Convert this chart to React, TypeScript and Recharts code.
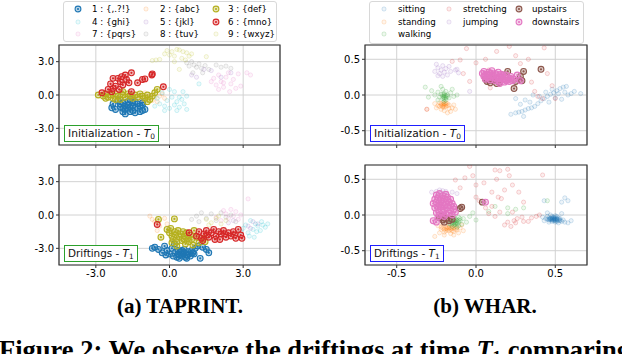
import React from 'react';
import { ScatterChart, Scatter, XAxis, YAxis, CartesianGrid, ReferenceArea } from 'recharts';

type Pt = [number, number];

// ---------- (a) TAPRINT, initialization T0 ----------
const tapInit1: Pt[] = [[-2.3,-0.8],[-2.1,-0.5],[-2.0,-1.1],[-1.9,-0.7],[-1.8,-1.3],[-1.7,-0.9],[-1.6,-1.5],[-1.5,-1.0],[-1.4,-0.6],[-1.3,-1.2],[-1.2,-1.5],[-1.1,-0.9],[-1.9,-1.5],[-2.2,-1.3],[-1.6,-0.4],[-1.7,-1.2],[-1.5,-1.4],[-1.8,-1.0],[-2.0,-0.8],[-1.4,-1.6],[-1.3,-0.8],[-1.0,-1.3],[-1.6,-1.1],[-1.9,-1.2],[-2.35,-1.15],[-1.2,-1.0],[-1.5,-0.7],[-1.8,-1.7],[-1.1,-1.4],[-1.7,-0.6],[-1.1,-0.7]];
const tapInit2: Pt[] = [[-1.8,0.1],[-1.6,-0.2],[-1.4,0.1],[-1.2,-0.1],[-1.0,0.2],[-0.8,0.0],[-0.6,-0.2],[-0.4,-0.1],[-0.2,-0.3],[-1.1,-0.4],[-0.7,-0.5],[-0.3,0.1],[-0.9,-0.2],[-1.5,-0.3],[-0.5,-0.6],[-2.0,0.2]];
const tapInit3: Pt[] = [[-2.9,0.0],[-2.7,-0.1],[-2.6,0.1],[-2.5,-0.2],[-2.4,0.0],[-2.3,-0.3],[-2.2,0.1],[-2.1,-0.1],[-2.0,-0.4],[-1.9,0.0],[-1.8,-0.2],[-1.7,0.1],[-1.6,-0.1],[-1.5,-0.3],[-1.4,0.0],[-1.3,-0.2],[-1.2,0.1],[-1.1,-0.1],[-1.0,-0.3],[-0.9,0.0],[-0.8,-0.4],[-0.7,-0.1],[-0.5,0.5],[-0.6,0.2],[-0.9,-0.6],[-2.2,-0.4],[-1.9,0.3],[-2.6,-0.3]];
const tapInit4: Pt[] = [[-0.5,-0.3],[-0.4,-0.8],[-0.3,0.2],[-0.2,-1.0],[-0.1,-0.5],[0.0,-1.2],[0.1,-0.2],[0.2,-0.9],[0.3,-0.6],[0.4,-1.1],[0.5,-0.4],[0.6,-0.8],[0.7,-1.3],[0.2,0.3],[0.3,-1.4],[-0.6,-1.0],[0.0,0.5],[0.55,0.3],[1.2,1.0],[0.7,-0.1],[-0.2,-1.4],[0.4,-0.2]];
const tapInit5: Pt[] = [[1.4,2.3],[2.1,1.6],[1.1,1.6],[2.5,2.0],[1.7,2.2],[0.9,1.8]];
const tapInit6: Pt[] = [[-2.75,0.2],[-2.4,1.0],[-2.3,1.5],[-1.95,1.65],[-1.8,1.8],[-1.55,2.0],[-1.65,1.1],[-2.0,1.2],[-2.05,0.5],[-2.35,0.3],[-1.3,1.1],[-1.1,1.4],[-0.7,1.9],[-0.72,1.8],[-0.25,0.74],[-1.55,0.3],[-2.2,0.8],[-1.9,0.9],[-2.5,0.5],[-2.1,1.5],[-1.75,1.4],[-2.3,0.6],[-1.0,1.45]];
const tapInit7: Pt[] = [[1.8,1.5],[1.9,0.9],[2.0,1.8],[2.1,1.2],[2.2,0.7],[2.3,1.6],[2.4,2.0],[2.5,1.0],[2.6,1.4],[2.7,0.6],[2.2,1.1],[2.0,0.5],[2.8,1.9],[1.7,1.2],[3.15,2.0],[3.3,1.8],[2.9,0.8],[2.45,0.3]];
const tapInit8: Pt[] = [[0.7,2.9],[0.8,2.6],[0.9,3.0],[1.0,2.7],[1.1,2.5],[1.2,2.8],[1.3,2.4],[1.45,2.65],[1.6,2.3],[1.9,2.7],[2.1,2.5],[2.3,2.6],[0.95,2.0],[1.35,2.0],[2.5,2.4]];
const tapInit9: Pt[] = [[-0.55,3.15],[-0.4,3.2],[-0.7,3.1],[-0.1,4.0],[0.0,3.6],[0.1,3.9],[0.2,3.5],[0.3,4.1],[0.4,4.05],[0.5,3.3],[0.55,3.9],[0.7,3.8],[0.8,3.5],[0.9,3.7],[0.4,2.3],[1.5,3.45],[0.2,3.0],[0.65,3.15],[-0.2,3.7]];

// ---------- (a) TAPRINT, driftings T1 ----------
const tapDrift1: Pt[] = [[-0.7,-3.0],[-0.6,-2.9],[-0.45,-3.1],[-0.3,-3.4],[-0.2,-2.8],[-0.1,-3.2],[0.0,-3.5],[0.1,-3.0],[0.15,-3.7],[0.25,-3.3],[0.3,-3.8],[0.35,-3.5],[0.4,-3.6],[0.45,-3.3],[0.5,-3.7],[0.55,-3.5],[0.6,-3.4],[0.65,-3.8],[0.7,-3.6],[0.75,-3.3],[0.8,-3.5],[0.85,-3.7],[0.9,-3.2],[0.95,-3.4],[1.05,-3.0],[1.15,-2.8],[1.25,-3.9],[1.35,-2.9],[1.5,-3.1],[1.6,-3.4],[0.2,-2.6],[0.4,-3.9],[0.6,-3.1],[0.7,-3.9],[0.5,-3.2],[-0.15,-3.6],[1.0,-3.5],[0.35,-3.2]];
const tapDrift2: Pt[] = [[-0.8,-0.1],[-0.6,-0.6],[-0.4,-1.0],[-0.2,-0.3],[-0.5,-1.4],[-0.1,-0.8],[-0.7,-0.4]];
const tapDrift3: Pt[] = [[-0.45,-0.4],[0.2,-0.35],[-0.35,-2.0],[-0.1,-1.3],[0.0,-1.6],[0.05,-1.2],[0.1,-1.9],[0.15,-2.2],[0.2,-1.5],[0.25,-1.8],[0.3,-2.4],[0.35,-1.4],[0.4,-2.0],[0.45,-1.7],[0.5,-2.3],[0.55,-1.5],[0.6,-1.9],[0.65,-2.6],[0.7,-1.6],[0.75,-2.1],[0.8,-2.4],[0.85,-1.8],[0.9,-2.2],[1.0,-1.4],[1.1,-2.0],[1.2,-2.5],[1.4,-2.1],[1.45,-2.4],[0.3,-2.8],[0.6,-2.2],[0.1,-2.5],[0.95,-2.7]];
const tapDrift4: Pt[] = [[3.0,-1.2],[3.1,-0.9],[3.2,-1.6],[3.3,-0.5],[3.4,-1.3],[3.5,-0.8],[3.6,-1.0],[3.7,-1.4],[3.8,-0.9],[3.9,-1.1],[4.0,-0.8],[3.45,-2.0],[3.25,-1.9],[3.55,-1.5],[2.9,-1.5],[3.75,-0.6]];
const tapDrift5: Pt[] = [[3.2,-1.0],[3.4,-0.6],[3.6,-0.8],[2.6,-0.5],[3.3,-1.2],[2.4,-0.7]];
const tapDrift6: Pt[] = [[-0.5,-0.85],[0.8,-1.6],[1.1,-1.9],[1.2,-1.5],[1.3,-2.1],[1.4,-1.7],[1.5,-1.4],[1.6,-2.0],[1.7,-1.6],[1.8,-1.3],[1.9,-1.9],[2.0,-1.5],[2.05,-2.2],[2.1,-1.7],[2.2,-1.4],[2.3,-2.0],[2.4,-1.6],[2.5,-1.9],[2.6,-1.5],[2.7,-2.1],[2.8,-1.3],[2.9,-1.8],[2.95,-2.1],[1.55,-1.8],[1.85,-2.2],[2.25,-1.7],[2.65,-1.8],[1.35,-2.3]];
const tapDrift7: Pt[] = [[1.9,-0.2],[2.1,-0.5],[2.3,0.1],[2.4,-0.3],[2.5,0.5],[2.6,-0.1],[2.7,0.3],[2.8,-0.4],[2.2,0.4],[3.2,1.45],[2.9,0.0]];
const tapDrift8: Pt[] = [[0.9,-0.4],[1.1,-0.1],[1.3,0.2],[1.5,-0.3],[1.7,0.1],[1.9,-0.5],[2.1,0.2],[2.3,-0.2],[2.5,0.0],[2.7,-0.6],[1.2,-0.6]];
const tapDrift9: Pt[] = [[1.5,-0.4],[1.7,-0.7],[1.9,-0.3],[2.1,-0.8],[2.3,-0.5],[1.6,-0.9],[2.0,-0.1]];

// ---------- (b) WHAR, initialization T0 ----------
const wharInitSitting: Pt[] = [[0.22,-0.27],[0.25,-0.25],[0.27,-0.24],[0.29,-0.23],[0.31,-0.21],[0.33,-0.19],[0.35,-0.18],[0.37,-0.16],[0.39,-0.12],[0.41,-0.08],[0.43,-0.05],[0.45,-0.02],[0.47,0.01],[0.49,0.03],[0.51,0.06],[0.53,0.09],[0.55,0.11],[0.52,0.02],[0.56,0.04],[0.58,0.0],[0.6,0.02],[0.62,0.05],[0.66,0.02],[0.44,0.04],[0.4,-0.02],[0.31,-0.07],[0.34,-0.1],[0.28,-0.13],[0.46,-0.1],[0.5,-0.04],[0.57,0.12],[0.48,0.08],[0.25,-0.05],[0.36,0.0],[0.54,-0.06],[0.3,-0.3]];
const wharInitStanding: Pt[] = [[-0.26,-0.12],[-0.24,-0.15],[-0.23,-0.11],[-0.22,-0.14],[-0.21,-0.17],[-0.2,-0.13],[-0.19,-0.16],[-0.18,-0.12],[-0.17,-0.19],[-0.22,-0.2],[-0.2,-0.22],[-0.15,-0.18],[-0.14,-0.14],[-0.16,-0.23],[-0.25,-0.18],[-0.31,-0.2],[-0.13,-0.2],[-0.18,-0.25],[-0.21,-0.11],[-0.23,-0.16],[-0.21,-0.14],[-0.2,-0.15],[-0.19,-0.13],[-0.22,-0.12],[-0.2,-0.17],[-0.18,-0.15],[-0.21,-0.16],[-0.19,-0.11],[-0.17,-0.14],[-0.2,-0.12]];
const wharInitWalking: Pt[] = [[-0.26,0.0],[-0.24,0.04],[-0.23,-0.03],[-0.22,0.01],[-0.21,-0.05],[-0.2,0.02],[-0.2,-0.02],[-0.19,0.05],[-0.19,-0.07],[-0.18,0.0],[-0.17,-0.04],[-0.16,0.03],[-0.21,0.08],[-0.24,-0.07],[-0.28,0.06],[-0.14,-0.02],[-0.32,0.11],[-0.2,-0.09],[-0.15,0.08],[-0.22,0.12],[-0.12,0.0],[-0.3,-0.03],[-0.21,-0.02],[-0.2,-0.04],[-0.19,-0.01],[-0.2,0.0],[-0.21,0.01],[-0.19,-0.04],[-0.2,-0.06],[-0.18,-0.02]];
const wharInitStretching: Pt[] = [[-0.06,0.65],[-0.15,0.47],[-0.1,0.49],[0.13,0.61],[0.21,0.68],[0.43,0.66],[-0.31,-0.2],[-0.04,0.19],[0.33,0.5],[0.39,-0.02],[0.37,0.05],[0.0,0.45],[0.06,0.5],[0.28,0.44],[0.45,0.3],[0.48,0.13],[0.15,0.15],[0.09,0.1],[0.5,-0.05],[-0.08,0.3],[0.35,0.18],[0.25,0.55],[0.08,0.35],[0.42,-0.05]];
const wharInitJumping: Pt[] = [[-0.26,0.33],[-0.24,0.38],[-0.23,0.3],[-0.22,0.35],[-0.21,0.41],[-0.2,0.32],[-0.19,0.37],[-0.18,0.28],[-0.24,0.27],[-0.21,0.26],[-0.16,0.33],[-0.13,0.35],[-0.12,0.36],[-0.25,0.43],[-0.17,0.4],[-0.11,0.31],[-0.04,0.05]];
const wharInitUpstairs: Pt[] = [[0.07,0.19],[0.09,0.17],[0.11,0.2],[0.13,0.16],[0.15,0.18],[0.1,0.23],[0.06,0.22],[0.2,0.33],[0.3,0.33],[0.41,0.36],[0.28,0.26],[0.29,0.2],[0.24,0.09],[0.25,0.19]];
const wharInitDownstairs: Pt[] = [[0.04,0.3],[0.05,0.26],[0.05,0.33],[0.06,0.22],[0.07,0.29],[0.08,0.25],[0.08,0.32],[0.09,0.21],[0.1,0.28],[0.1,0.34],[0.11,0.24],[0.12,0.3],[0.12,0.2],[0.13,0.27],[0.14,0.23],[0.14,0.32],[0.15,0.19],[0.16,0.26],[0.16,0.29],[0.17,0.22],[0.18,0.25],[0.18,0.18],[0.19,0.28],[0.2,0.21],[0.2,0.24],[0.21,0.19],[0.22,0.23],[0.22,0.26],[0.23,0.2],[0.24,0.22],[0.06,0.28],[0.09,0.3],[0.11,0.27],[0.13,0.22],[0.15,0.25],[0.17,0.28],[0.19,0.2],[0.07,0.24],[0.26,0.28],[0.28,0.2],[0.15,0.16]];

// ---------- (b) WHAR, driftings T1 ----------
const wharDriftSitting: Pt[] = [[0.44,-0.05],[0.45,-0.02],[0.46,-0.07],[0.47,-0.04],[0.47,0.0],[0.48,-0.06],[0.48,-0.09],[0.49,-0.03],[0.49,-0.07],[0.5,-0.05],[0.5,-0.1],[0.51,-0.06],[0.51,-0.02],[0.52,-0.08],[0.53,-0.05],[0.54,-0.09],[0.46,-0.1],[0.47,-0.05],[0.5,-0.08],[0.52,-0.11],[0.55,-0.07],[0.43,-0.08],[0.56,-0.1],[0.58,-0.11],[0.45,0.03],[0.42,-0.03],[0.54,0.02],[0.56,0.24],[0.58,0.2],[0.54,0.18],[0.43,0.2],[0.6,-0.08],[0.49,-0.05],[0.48,-0.04],[0.51,-0.09],[0.5,-0.03],[0.46,-0.04],[0.47,-0.07],[0.48,-0.05],[0.49,-0.06],[0.5,-0.06],[0.51,-0.05],[0.52,-0.06],[0.48,-0.07],[0.49,-0.04],[0.47,-0.06],[0.5,-0.07],[0.51,-0.07],[0.53,-0.08],[0.46,-0.06],[0.52,-0.04],[0.49,-0.08],[0.48,-0.02],[0.5,-0.01],[0.53,-0.07],[0.45,-0.06]];
const wharDriftStanding: Pt[] = [[-0.24,-0.15],[-0.22,-0.2],[-0.21,-0.13],[-0.2,-0.24],[-0.19,-0.17],[-0.18,-0.21],[-0.17,-0.14],[-0.16,-0.26],[-0.15,-0.19],[-0.14,-0.23],[-0.13,-0.16],[-0.12,-0.21],[-0.11,-0.25],[-0.1,-0.18],[-0.09,-0.14],[-0.2,-0.28],[-0.23,-0.25],[-0.26,-0.3],[-0.14,-0.28],[-0.08,-0.22],[-0.17,-0.18],[-0.19,-0.22],[-0.22,-0.17],[-0.15,-0.22],[-0.18,-0.19],[-0.16,-0.2],[-0.14,-0.18],[-0.17,-0.22],[-0.19,-0.19],[-0.15,-0.17],[-0.13,-0.2],[-0.18,-0.17],[-0.16,-0.18],[-0.2,-0.2],[-0.12,-0.18],[-0.21,-0.18]];
const wharDriftWalking: Pt[] = [[-0.18,-0.08],[-0.17,-0.12],[-0.16,-0.05],[-0.15,-0.1],[-0.14,-0.14],[-0.13,-0.07],[-0.12,-0.11],[-0.11,-0.03],[-0.1,-0.08],[-0.09,-0.13],[-0.15,-0.16],[-0.12,-0.17],[-0.08,-0.05],[-0.14,-0.02],[-0.11,-0.15],[-0.16,-0.13],[-0.06,-0.1],[-0.04,-0.02],[-0.02,0.03],[0.0,-0.07],[0.08,0.05],[0.12,0.12],[0.2,0.02],[0.25,0.08],[0.3,0.1],[0.2,0.1],[0.45,0.2],[-0.13,-0.09],[-0.1,-0.05],[-0.17,-0.03],[-0.14,-0.08],[-0.13,-0.11],[-0.12,-0.08],[-0.15,-0.07],[-0.14,-0.11],[-0.12,-0.13],[-0.11,-0.1],[-0.13,-0.05],[-0.15,-0.12],[-0.11,-0.07],[-0.13,-0.13],[-0.16,-0.09]];
const wharDriftStretching: Pt[] = [[-0.04,0.68],[-0.13,0.49],[-0.07,0.52],[-0.02,0.55],[0.12,0.63],[0.15,0.62],[0.2,0.64],[0.13,0.5],[0.0,0.42],[0.0,0.25],[0.14,0.25],[0.16,0.23],[0.1,0.32],[0.06,0.1],[0.1,0.12],[0.15,0.04],[0.23,0.04],[0.29,-0.03],[0.35,-0.04],[0.38,-0.02],[0.2,-0.1],[0.25,-0.11],[0.3,-0.09],[0.18,-0.14],[0.22,-0.16],[0.23,0.42],[0.27,0.32],[0.3,0.18],[0.42,0.56],[0.05,0.45],[0.08,0.02],[0.18,0.35],[0.26,-0.05],[0.33,-0.09],[0.12,-0.02],[0.02,0.2],[-0.1,0.38],[0.4,0.0],[0.21,0.55],[0.24,-0.08]];
const wharDriftJumping: Pt[] = [[-0.25,0.33],[-0.23,0.35],[-0.22,0.31],[-0.21,0.34],[-0.2,0.3],[-0.19,0.33],[-0.24,0.29],[-0.18,0.28],[-0.22,0.27],[-0.12,0.3],[-0.28,0.32],[-0.15,0.32]];
const wharDriftUpstairs: Pt[] = [[0.04,0.18],[-0.09,0.11],[-0.1,0.09],[-0.23,-0.04],[-0.21,-0.07],[-0.19,-0.05],[-0.17,-0.08],[-0.2,-0.1],[-0.15,-0.06],[-0.22,-0.02]];
const wharDriftDownstairs: Pt[] = [[-0.25,0.28],[-0.23,0.3],[-0.21,0.27],[-0.19,0.29],[-0.26,0.22],[-0.24,0.24],[-0.22,0.21],[-0.2,0.23],[-0.18,0.25],[-0.16,0.22],[-0.27,0.16],[-0.25,0.18],[-0.23,0.14],[-0.21,0.17],[-0.19,0.15],[-0.17,0.18],[-0.15,0.16],[-0.14,0.12],[-0.26,0.1],[-0.24,0.08],[-0.22,0.11],[-0.2,0.07],[-0.18,0.1],[-0.16,0.06],[-0.14,0.08],[-0.25,0.03],[-0.23,0.0],[-0.21,0.04],[-0.19,0.01],[-0.17,0.03],[-0.15,0.0],[-0.24,-0.03],[-0.2,-0.02],[-0.27,-0.08],[-0.13,0.04],[-0.22,0.19],[-0.18,0.2],[-0.2,0.13],[-0.24,0.12],[-0.16,0.13],[0.06,0.18],[-0.25,-0.1]];

const tapNames = ['1 : {,.?!}', '2 : {abc}', '3 : {def}', '4 : {ghi}', '5 : {jkl}', '6 : {mno}', '7 : {pqrs}', '8 : {tuv}', '9 : {wxyz}'];
const tapColors = ['#1f77b4', '#ff7f0e', '#b5b01f', '#17becf', '#9467bd', '#d62728', '#e377c2', '#7f7f7f', '#bcbd22'];
const tapHighlight = [true, false, true, false, false, true, false, false, false];
// legend slots [column, row]
const tapSlots = [[0, 0], [1, 0], [2, 0], [0, 1], [1, 1], [2, 1], [0, 2], [1, 2], [2, 2]];

const wharNames = ['sitting', 'standing', 'walking', 'stretching', 'jumping', 'upstairs', 'downstairs'];
const wharColors = ['#1f77b4', '#ff7f0e', '#2ca02c', '#d62728', '#9467bd', '#8c564b', '#e377c2'];
const wharHighlight = [false, false, false, false, false, true, true];
const wharSlots = [[0, 0], [0, 1], [0, 2], [1, 0], [1, 1], [2, 0], [2, 1]];

const tapTicks = [-3, 0, 3];
const wharTicks = [-0.5, 0, 0.5];

const toXY = (a: Pt[]) => a.map(([x, y]) => ({ x, y }));

const HiDot = ({ cx, cy, color }: any) => {
    if (cx == null || cy == null) return null;
    return (
        <g>
            <circle cx={cx} cy={cy} r={2.9} fill={color} fillOpacity={0.3} stroke={color} strokeWidth={1.1} />
            <circle cx={cx} cy={cy} r={1.1} fill={color} />
        </g>
    );
};

const PaleDot = ({ cx, cy, color }: any) => {
    if (cx == null || cy == null) return null;
    return <circle cx={cx} cy={cy} r={2.1} fill={color} fillOpacity={0.08} stroke={color} strokeOpacity={0.24} strokeWidth={0.8} />;
};

const tickStyle = { fontSize: 10, fill: '#000', fontFamily: 'DejaVu Sans' };

function Panel({ left, top, height, margin, series, lim, ticks, showX }: any) {
    return (
        <div style={{ position: 'absolute', left, top }}>
            <ScatterChart width={300} height={height} margin={margin}>
                <CartesianGrid stroke="#d2d2d2" strokeWidth={1} />
                <XAxis type="number" dataKey="x" domain={[-lim, lim]} ticks={ticks} allowDataOverflow
                    tickFormatter={(v: number) => (showX ? v.toFixed(1) : '')}
                    tick={tickStyle} tickSize={3} tickLine={{ stroke: '#333' }} axisLine={false} height={showX ? 21 : 20} />
                <YAxis type="number" dataKey="y" domain={[-lim, lim]} ticks={ticks} allowDataOverflow
                    tickFormatter={(v: number) => v.toFixed(1)}
                    tick={tickStyle} tickSize={3} tickLine={{ stroke: '#333' }} axisLine={false} width={40} />
                {series.map((s: any) => (
                    <Scatter key={s.name} name={s.name} data={s.data} isAnimationActive={false}
                        shape={(p: any) => (s.hi ? <HiDot {...p} color={s.color} /> : <PaleDot {...p} color={s.color} />)} />
                ))}
                <ReferenceArea x1={-lim} x2={lim} y1={-lim} y2={lim} fill="none" fillOpacity={0} stroke="#333" strokeWidth={1.2} strokeOpacity={1} />
            </ScatterChart>
        </div>
    );
}

function LegendBox({ left, width, height, names, colors, hi, cols, slots }: any) {
    const rows = [8, 21, 33];
    return (
        <div style={{ position: 'absolute', left, top: 1, width, height, border: '1px solid #d8d8d8', borderRadius: 3, background: '#fff', boxSizing: 'border-box' }}>
            {names.map((n: string, i: number) => {
                const c = cols[slots[i][0]];
                const y = rows[slots[i][1]] - 1;
                return (
                    <React.Fragment key={n}>
                        <svg style={{ position: 'absolute', left: c[0] - left - 5, top: y - 5 }} width={10} height={10}>
                            {hi[i] ? <HiDot cx={5} cy={5} color={colors[i]} /> : <PaleDot cx={5} cy={5} color={colors[i]} />}
                        </svg>
                        <div style={{ position: 'absolute', left: c[1] - left - 1, top: y - 6, fontFamily: 'DejaVu Sans', fontSize: 8.7, lineHeight: '12px', whiteSpace: 'nowrap', color: '#000' }}>{n}</div>
                    </React.Fragment>
                );
            })}
        </div>
    );
}

function TagBox({ left, top, color, label, sub, fontSize }: any) {
    return (
        <div style={{ position: 'absolute', left, top, border: `1.2px solid ${color}`, background: '#fff', fontFamily: 'DejaVu Sans', fontSize, lineHeight: '15px', padding: '0 3px', whiteSpace: 'nowrap', color: '#111' }}>
            {label}<span style={{ fontStyle: 'italic' }}>T</span><sub style={{ fontSize: '70%', verticalAlign: '-0.3em', lineHeight: 0 }}>{sub}</sub>
        </div>
    );
}

export default function App() {
    const tapInit = [tapInit1, tapInit2, tapInit3, tapInit4, tapInit5, tapInit6, tapInit7, tapInit8, tapInit9];
    const tapDrift = [tapDrift1, tapDrift2, tapDrift3, tapDrift4, tapDrift5, tapDrift6, tapDrift7, tapDrift8, tapDrift9];
    const wharInit = [wharInitSitting, wharInitStanding, wharInitWalking, wharInitStretching, wharInitJumping, wharInitUpstairs, wharInitDownstairs];
    const wharDrift = [wharDriftSitting, wharDriftStanding, wharDriftWalking, wharDriftStretching, wharDriftJumping, wharDriftUpstairs, wharDriftDownstairs];

    const tapSeries = (sets: Pt[][]) => sets.map((d, i) => ({ name: tapNames[i], color: tapColors[i], hi: tapHighlight[i], data: toXY(d) }));
    const wharSeries = (sets: Pt[][]) => wharNames.map((n, i) => ({ name: n, color: wharColors[i], hi: wharHighlight[i], data: toXY(sets[i]) }));

    const topMargin = { top: 45, right: 20, bottom: 0, left: 19 };
    const botMargin = { top: 15, right: 20, bottom: 4, left: 19 };
    const topMarginR = { top: 45, right: 19, bottom: 0, left: 19 };
    const botMarginR = { top: 15, right: 19, bottom: 4, left: 19 };

    return (
        <div style={{ position: 'absolute', left: 0, top: 0, width: 622, height: 354, background: '#fff', overflow: 'hidden' }}>
            <Panel left={0} top={0} height={165} margin={topMargin} series={tapSeries(tapInit)} lim={4.5} ticks={tapTicks} showX={false} />
            <Panel left={0} top={150} height={140} margin={botMargin} series={tapSeries(tapDrift)} lim={4.5} ticks={tapTicks} showX={true} />
            <Panel left={306} top={0} height={165} margin={topMarginR} series={wharSeries(wharInit)} lim={0.7} ticks={wharTicks} showX={false} />
            <Panel left={306} top={150} height={140} margin={botMarginR} series={wharSeries(wharDrift)} lim={0.7} ticks={wharTicks} showX={true} />

            <LegendBox left={63} width={214} height={41} names={tapNames} colors={tapColors} hi={tapHighlight}
                cols={[[77, 92], [145, 160], [215, 228]]} slots={tapSlots} />
            <LegendBox left={369} width={215} height={43} names={wharNames} colors={wharColors} hi={wharHighlight}
                cols={[[383, 398], [448, 463], [518, 532]]} slots={wharSlots} />

            <TagBox left={64} top={125} color="#2ca02c" label="Initialization - " sub="0" fontSize={10.7} />
            <TagBox left={370} top={125} color="#1f1fff" label="Initialization - " sub="0" fontSize={10.7} />
            <TagBox left={64} top={245} color="#2ca02c" label="Driftings - " sub="1" fontSize={10.4} />
            <TagBox left={370} top={245} color="#1f1fff" label="Driftings - " sub="1" fontSize={10.4} />

            <div style={{ position: 'absolute', left: 30, top: 296, width: 300, textAlign: 'center', fontFamily: 'Liberation Serif', fontWeight: 'bold', fontSize: 21, lineHeight: '21px', color: '#000' }}>(a) TAPRINT.</div>
            <div style={{ position: 'absolute', left: 335, top: 296, width: 300, textAlign: 'center', fontFamily: 'Liberation Serif', fontWeight: 'bold', fontSize: 21, lineHeight: '21px', color: '#000' }}>(b) WHAR.</div>
            <div style={{ position: 'absolute', left: -1, top: 337, whiteSpace: 'nowrap', fontFamily: 'Liberation Serif', fontWeight: 'bold', fontSize: 26.5, lineHeight: '26px', color: '#000' }}>
                Figure 2: We observe the driftings at time <span style={{ fontStyle: 'italic' }}>T</span><sub style={{ fontSize: '65%', verticalAlign: '-0.2em', lineHeight: 0 }}>1</sub> comparing
            </div>
        </div>
    );
}
